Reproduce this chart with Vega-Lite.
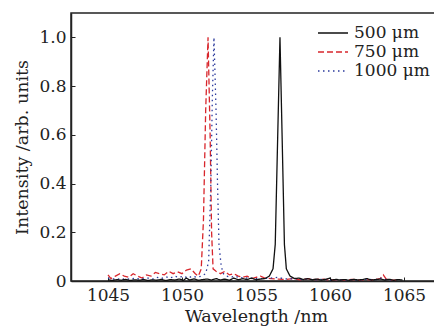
{
  "$schema": "https://vega.github.io/schema/vega-lite/v6.json",
  "width": 370,
  "height": 268,
  "autosize": "none",
  "padding": {"left": 71, "top": 13, "right": 0, "bottom": 48},
  "background": "white",
  "config": {
    "font": "DejaVu Serif",
    "view": {"stroke": "#222", "strokeWidth": 1.5},
    "axis": {"domainColor": "#222", "domainWidth": 1.5, "tickColor": "#222", "labelColor": "#222", "titleColor": "#222", "labelFont": "DejaVu Serif", "titleFont": "DejaVu Serif", "labelFontSize": 17, "titleFontSize": 17.5, "titleFontWeight": "normal", "grid": false, "tickSize": -4, "labelPadding": 9},
    "legend": {"labelFont": "DejaVu Serif", "labelFontSize": 17, "labelColor": "#222"}
  },
  "datasets": {
    "spec": [
      {"w":1045.0,"i":0.025,"s":"750 μm"},{"w":1045.2,"i":0.01,"s":"750 μm"},{"w":1045.5,"i":0.02,"s":"750 μm"},{"w":1045.8,"i":0.03,"s":"750 μm"},{"w":1046.1,"i":0.02,"s":"750 μm"},{"w":1046.4,"i":0.015,"s":"750 μm"},{"w":1046.7,"i":0.03,"s":"750 μm"},{"w":1047.0,"i":0.02,"s":"750 μm"},{"w":1047.3,"i":0.012,"s":"750 μm"},{"w":1047.6,"i":0.025,"s":"750 μm"},{"w":1047.9,"i":0.02,"s":"750 μm"},{"w":1048.2,"i":0.035,"s":"750 μm"},{"w":1048.5,"i":0.03,"s":"750 μm"},{"w":1048.8,"i":0.025,"s":"750 μm"},{"w":1049.1,"i":0.04,"s":"750 μm"},{"w":1049.4,"i":0.03,"s":"750 μm"},{"w":1049.7,"i":0.038,"s":"750 μm"},{"w":1050.0,"i":0.03,"s":"750 μm"},{"w":1050.3,"i":0.045,"s":"750 μm"},{"w":1050.6,"i":0.05,"s":"750 μm"},{"w":1050.9,"i":0.03,"s":"750 μm"},{"w":1051.1,"i":0.02,"s":"750 μm"},{"w":1051.3,"i":0.05,"s":"750 μm"},{"w":1051.45,"i":0.25,"s":"750 μm"},{"w":1051.6,"i":0.7,"s":"750 μm"},{"w":1051.76,"i":1.0,"s":"750 μm"},{"w":1051.9,"i":0.6,"s":"750 μm"},{"w":1052.0,"i":0.2,"s":"750 μm"},{"w":1052.1,"i":0.05,"s":"750 μm"},{"w":1052.3,"i":0.04,"s":"750 μm"},{"w":1052.6,"i":0.03,"s":"750 μm"},{"w":1052.9,"i":0.04,"s":"750 μm"},{"w":1053.2,"i":0.025,"s":"750 μm"},{"w":1053.5,"i":0.03,"s":"750 μm"},{"w":1053.8,"i":0.02,"s":"750 μm"},{"w":1054.1,"i":0.015,"s":"750 μm"},{"w":1054.4,"i":0.02,"s":"750 μm"},{"w":1054.7,"i":0.01,"s":"750 μm"},{"w":1055.0,"i":0.015,"s":"750 μm"},{"w":1055.3,"i":0.02,"s":"750 μm"},{"w":1055.6,"i":0.012,"s":"750 μm"},{"w":1056.0,"i":0.01,"s":"750 μm"},{"w":1056.5,"i":0.008,"s":"750 μm"},{"w":1057.0,"i":0.006,"s":"750 μm"},{"w":1057.5,"i":0.01,"s":"750 μm"},{"w":1058.0,"i":0.005,"s":"750 μm"},{"w":1058.5,"i":0.01,"s":"750 μm"},{"w":1059.0,"i":0.006,"s":"750 μm"},{"w":1059.5,"i":0.008,"s":"750 μm"},{"w":1060.0,"i":0.004,"s":"750 μm"},{"w":1060.5,"i":0.006,"s":"750 μm"},{"w":1061.0,"i":0.004,"s":"750 μm"},{"w":1061.5,"i":0.007,"s":"750 μm"},{"w":1062.0,"i":0.004,"s":"750 μm"},{"w":1062.5,"i":0.006,"s":"750 μm"},{"w":1063.0,"i":0.005,"s":"750 μm"},{"w":1063.4,"i":0.01,"s":"750 μm"},{"w":1063.6,"i":0.025,"s":"750 μm"},{"w":1063.8,"i":0.008,"s":"750 μm"},{"w":1064.1,"i":0.005,"s":"750 μm"},{"w":1064.5,"i":0.003,"s":"750 μm"},

      {"w":1045.0,"i":0.012,"s":"1000 μm"},{"w":1045.3,"i":0.008,"s":"1000 μm"},{"w":1045.6,"i":0.01,"s":"1000 μm"},{"w":1045.9,"i":0.006,"s":"1000 μm"},{"w":1046.2,"i":0.01,"s":"1000 μm"},{"w":1046.5,"i":0.007,"s":"1000 μm"},{"w":1046.8,"i":0.012,"s":"1000 μm"},{"w":1047.1,"i":0.008,"s":"1000 μm"},{"w":1047.4,"i":0.01,"s":"1000 μm"},{"w":1047.7,"i":0.012,"s":"1000 μm"},{"w":1048.0,"i":0.008,"s":"1000 μm"},{"w":1048.3,"i":0.015,"s":"1000 μm"},{"w":1048.6,"i":0.01,"s":"1000 μm"},{"w":1048.9,"i":0.018,"s":"1000 μm"},{"w":1049.2,"i":0.012,"s":"1000 μm"},{"w":1049.5,"i":0.02,"s":"1000 μm"},{"w":1049.8,"i":0.015,"s":"1000 μm"},{"w":1050.1,"i":0.02,"s":"1000 μm"},{"w":1050.4,"i":0.012,"s":"1000 μm"},{"w":1050.7,"i":0.02,"s":"1000 μm"},{"w":1051.0,"i":0.015,"s":"1000 μm"},{"w":1051.3,"i":0.02,"s":"1000 μm"},{"w":1051.6,"i":0.03,"s":"1000 μm"},{"w":1051.8,"i":0.08,"s":"1000 μm"},{"w":1051.95,"i":0.4,"s":"1000 μm"},{"w":1052.05,"i":0.75,"s":"1000 μm"},{"w":1052.16,"i":1.0,"s":"1000 μm"},{"w":1052.3,"i":0.7,"s":"1000 μm"},{"w":1052.4,"i":0.4,"s":"1000 μm"},{"w":1052.5,"i":0.15,"s":"1000 μm"},{"w":1052.65,"i":0.06,"s":"1000 μm"},{"w":1052.8,"i":0.03,"s":"1000 μm"},{"w":1053.0,"i":0.02,"s":"1000 μm"},{"w":1053.3,"i":0.015,"s":"1000 μm"},{"w":1053.6,"i":0.02,"s":"1000 μm"},{"w":1053.9,"i":0.012,"s":"1000 μm"},{"w":1054.2,"i":0.015,"s":"1000 μm"},{"w":1054.5,"i":0.01,"s":"1000 μm"},{"w":1054.8,"i":0.012,"s":"1000 μm"},{"w":1055.1,"i":0.008,"s":"1000 μm"},{"w":1055.5,"i":0.01,"s":"1000 μm"},{"w":1056.0,"i":0.012,"s":"1000 μm"},{"w":1056.5,"i":0.015,"s":"1000 μm"},{"w":1056.8,"i":0.01,"s":"1000 μm"},{"w":1057.2,"i":0.008,"s":"1000 μm"},{"w":1057.6,"i":0.01,"s":"1000 μm"},{"w":1058.0,"i":0.006,"s":"1000 μm"},{"w":1058.5,"i":0.008,"s":"1000 μm"},{"w":1059.0,"i":0.005,"s":"1000 μm"},{"w":1059.5,"i":0.007,"s":"1000 μm"},{"w":1060.0,"i":0.004,"s":"1000 μm"},{"w":1060.5,"i":0.006,"s":"1000 μm"},{"w":1061.0,"i":0.004,"s":"1000 μm"},{"w":1061.5,"i":0.006,"s":"1000 μm"},{"w":1062.0,"i":0.004,"s":"1000 μm"},{"w":1062.5,"i":0.007,"s":"1000 μm"},{"w":1063.0,"i":0.005,"s":"1000 μm"},{"w":1063.5,"i":0.012,"s":"1000 μm"},{"w":1063.8,"i":0.006,"s":"1000 μm"},{"w":1064.2,"i":0.004,"s":"1000 μm"},

      {"w":1045.0,"i":0.005,"s":"500 μm"},{"w":1045.3,"i":0.002,"s":"500 μm"},{"w":1045.6,"i":0.006,"s":"500 μm"},{"w":1045.9,"i":0.003,"s":"500 μm"},{"w":1046.2,"i":0.007,"s":"500 μm"},{"w":1046.5,"i":0.002,"s":"500 μm"},{"w":1046.8,"i":0.005,"s":"500 μm"},{"w":1047.1,"i":0.003,"s":"500 μm"},{"w":1047.4,"i":0.006,"s":"500 μm"},{"w":1047.7,"i":0.002,"s":"500 μm"},{"w":1048.0,"i":0.005,"s":"500 μm"},{"w":1048.3,"i":0.003,"s":"500 μm"},{"w":1048.6,"i":0.007,"s":"500 μm"},{"w":1048.9,"i":0.002,"s":"500 μm"},{"w":1049.2,"i":0.006,"s":"500 μm"},{"w":1049.5,"i":0.004,"s":"500 μm"},{"w":1049.8,"i":0.008,"s":"500 μm"},{"w":1050.1,"i":0.003,"s":"500 μm"},{"w":1050.3,"i":0.012,"s":"500 μm"},{"w":1050.5,"i":0.004,"s":"500 μm"},{"w":1050.8,"i":0.009,"s":"500 μm"},{"w":1051.1,"i":0.003,"s":"500 μm"},{"w":1051.4,"i":0.006,"s":"500 μm"},{"w":1051.7,"i":0.008,"s":"500 μm"},{"w":1052.0,"i":0.004,"s":"500 μm"},{"w":1052.3,"i":0.01,"s":"500 μm"},{"w":1052.6,"i":0.004,"s":"500 μm"},{"w":1052.9,"i":0.008,"s":"500 μm"},{"w":1053.2,"i":0.003,"s":"500 μm"},{"w":1053.5,"i":0.012,"s":"500 μm"},{"w":1053.8,"i":0.005,"s":"500 μm"},{"w":1054.1,"i":0.01,"s":"500 μm"},{"w":1054.4,"i":0.006,"s":"500 μm"},{"w":1054.7,"i":0.012,"s":"500 μm"},{"w":1055.0,"i":0.005,"s":"500 μm"},{"w":1055.3,"i":0.008,"s":"500 μm"},{"w":1055.6,"i":0.01,"s":"500 μm"},{"w":1055.9,"i":0.02,"s":"500 μm"},{"w":1056.15,"i":0.05,"s":"500 μm"},{"w":1056.3,"i":0.15,"s":"500 μm"},{"w":1056.45,"i":0.55,"s":"500 μm"},{"w":1056.62,"i":1.0,"s":"500 μm"},{"w":1056.78,"i":0.55,"s":"500 μm"},{"w":1056.92,"i":0.15,"s":"500 μm"},{"w":1057.05,"i":0.05,"s":"500 μm"},{"w":1057.3,"i":0.02,"s":"500 μm"},{"w":1057.6,"i":0.01,"s":"500 μm"},{"w":1057.9,"i":0.012,"s":"500 μm"},{"w":1058.2,"i":0.006,"s":"500 μm"},{"w":1058.5,"i":0.01,"s":"500 μm"},{"w":1058.8,"i":0.005,"s":"500 μm"},{"w":1059.1,"i":0.008,"s":"500 μm"},{"w":1059.4,"i":0.004,"s":"500 μm"},{"w":1059.7,"i":0.007,"s":"500 μm"},{"w":1060.0,"i":0.012,"s":"500 μm"},{"w":1060.1,"i":0.003,"s":"500 μm"},{"w":1060.4,"i":0.007,"s":"500 μm"},{"w":1060.7,"i":0.004,"s":"500 μm"},{"w":1061.0,"i":0.006,"s":"500 μm"},{"w":1061.3,"i":0.003,"s":"500 μm"},{"w":1061.6,"i":0.007,"s":"500 μm"},{"w":1061.9,"i":0.004,"s":"500 μm"},{"w":1062.2,"i":0.006,"s":"500 μm"},{"w":1062.5,"i":0.01,"s":"500 μm"},{"w":1062.8,"i":0.004,"s":"500 μm"},{"w":1063.1,"i":0.006,"s":"500 μm"},{"w":1063.4,"i":0.008,"s":"500 μm"},{"w":1063.7,"i":0.004,"s":"500 μm"},{"w":1064.0,"i":0.007,"s":"500 μm"},{"w":1064.3,"i":0.003,"s":"500 μm"},{"w":1064.6,"i":0.006,"s":"500 μm"},{"w":1064.9,"i":0.004,"s":"500 μm"}
    ]
  },
  "data": {"name": "spec"},
  "mark": {"type": "line", "strokeWidth": 1.3, "clip": true},
  "encoding": {
    "x": {"field": "w", "type": "quantitative", "scale": {"domain": [1042.5, 1067.5], "nice": false, "zero": false},
      "axis": {"title": "Wavelength /nm", "values": [1045, 1050, 1055, 1060, 1065], "format": "d", "titlePadding": 4, "labelPadding": 10}},
    "y": {"field": "i", "type": "quantitative", "scale": {"domain": [0, 1.1], "nice": false},
      "axis": {"title": "Intensity /arb. units", "values": [0, 0.2, 0.4, 0.6, 0.8, 1.0], "labelExpr": "datum.value == 0 ? '0' : format(datum.value, '.1f')", "titlePadding": 7}},
    "color": {"field": "s", "type": "nominal", "sort": ["500 μm", "750 μm", "1000 μm"],
      "scale": {"domain": ["500 μm", "750 μm", "1000 μm"], "range": ["#111111", "#d8262c", "#2b3a9c"]},
      "legend": {"title": null, "orient": "none", "legendX": 251, "legendY": 9, "symbolType": "M-1.5,0H1.5", "symbolSize": 400, "symbolStrokeWidth": 1.5, "symbolFillColor": "transparent", "rowPadding": 0, "labelOffset": 10}},
    "strokeDash": {"field": "s", "type": "nominal", "sort": ["500 μm", "750 μm", "1000 μm"],
      "scale": {"domain": ["500 μm", "750 μm", "1000 μm"], "range": [[1, 0], [6, 3], [1.5, 3.5]]},
      "legend": {"title": null, "orient": "none", "legendX": 251, "legendY": 9, "symbolType": "M-1.5,0H1.5", "symbolSize": 400, "symbolStrokeWidth": 1.5, "symbolFillColor": "transparent", "rowPadding": 0, "labelOffset": 10}}
  }
}
